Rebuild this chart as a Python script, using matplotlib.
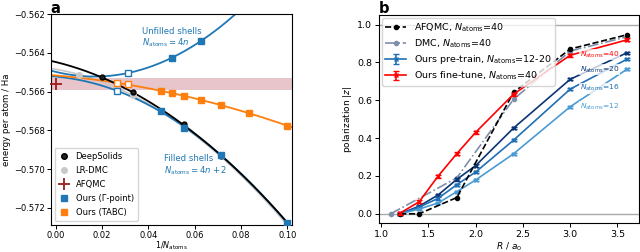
import matplotlib.pyplot as plt
import numpy as np

# ---- panel a data (energy per atom vs 1/N) ----
n_ds = np.array([50, 30, 22, 18, 14, 10])
e_ds = [-0.56526, -0.56603, -0.56700, -0.56768, -0.56930, -0.57277]

n_dmc = np.array([98, 30, 18])
e_dmc = [-0.56512, -0.56620, -0.56784]

e_afqmc = -0.56559
err_afqmc = 0.00031

n_gam_fill = np.array([38, 22, 18, 14, 10])
e_gam_fill = [-0.56595, -0.56701, -0.56788, -0.56926, -0.57280]
hollow_gam_fill = [True, False, False, False, False]

n_gam_unf = np.array([32, 20, 16])
e_gam_unf = [-0.56504, -0.56426, -0.56340]
hollow_gam_unf = [True, False, False]

n_tabc = np.array([38, 32, 22, 20, 18, 16, 14, 12, 10])
e_tabc = [-0.56555, -0.56562, -0.56598, -0.56608, -0.56624, -0.56641, -0.56669, -0.56710, -0.56777]
hollow_tabc = [True, True, False, False, False, False, False, False, False]

# ---- panel b data (polarization vs R) ----
r_afqmc = [1.2, 1.4, 1.8, 2.4, 3.0, 3.6]
p_afqmc = [0.0, 0.0, 0.086, 0.642, 0.871, 0.946]

r_dmc = [1.1, 1.8, 2.4, 3.0, 3.6]
p_dmc = [0.0, 0.19, 0.605, 0.86, 0.935]

r_ours = [1.2, 1.4, 1.6, 1.8, 2.0, 2.4, 3.0, 3.6]
p_n40 = [0.004, 0.063, 0.198, 0.318, 0.431, 0.632, 0.838, 0.919]
p_n20 = [0.0, 0.040, 0.099, 0.182, 0.255, 0.453, 0.711, 0.851]
p_n16 = [0.0, 0.035, 0.081, 0.154, 0.221, 0.389, 0.659, 0.817]
p_n12 = [0.0, 0.025, 0.057, 0.117, 0.179, 0.317, 0.566, 0.764]
err_n40 = [0.008, 0.008, 0.008, 0.008, 0.008, 0.008, 0.008, 0.008]
err_pre = [0.006, 0.006, 0.006, 0.006, 0.006, 0.006, 0.006, 0.006]

fig = plt.figure(figsize=(6.4, 2.52), dpi=100)

# ================= panel a =================
ax = fig.add_axes([0.079, 0.106, 0.377, 0.838])
xs = np.linspace(-0.003, 0.103, 200)

def fitcurve(n, e):
    c = np.polyfit(1 / n, e, 2)
    return np.polyval(c, xs)

ax.axhspan(e_afqmc - err_afqmc, e_afqmc + err_afqmc, color="#b04050", alpha=0.3, lw=0, zorder=0)

ax.plot(xs, fitcurve(n_dmc, e_dmc), color="#c8c8c8", lw=1.2, zorder=2)
ax.plot(xs, fitcurve(n_gam_fill, e_gam_fill), color="C0", lw=1.3, zorder=2)
ax.plot(xs, fitcurve(n_gam_unf, e_gam_unf), color="C0", lw=1.3, zorder=2)
ax.plot(xs, fitcurve(n_tabc, e_tabc), color="C1", lw=1.3, zorder=2)
ax.plot(xs, fitcurve(n_ds, e_ds), color="black", lw=1.3, zorder=3)

ax.plot(1 / n_dmc, e_dmc, "o", color="#c8c8c8", ms=4, zorder=3)
ax.plot(1 / n_ds, e_ds, "o", color="#222222", mec="black", ms=3.5, zorder=4)

for n, e, h in zip(n_gam_fill, e_gam_fill, hollow_gam_fill):
    ax.plot(1 / n, e, "s", ms=4, mec="C0", mfc="white" if h else "C0", mew=1, zorder=4)
for n, e, h in zip(n_gam_unf, e_gam_unf, hollow_gam_unf):
    ax.plot(1 / n, e, "s", ms=4, mec="C0", mfc="white" if h else "C0", mew=1, zorder=4)
for n, e, h in zip(n_tabc, e_tabc, hollow_tabc):
    ax.plot(1 / n, e, "s", ms=4, mec="C1", mfc="white" if h else "C1", mew=1, zorder=4)

ax.plot(0, e_afqmc, "+", color="#a01c1c", ms=8, mew=1.3, zorder=5, clip_on=False)

# legend handles
ax.plot([], [], "o", color="#222222", mec="black", ms=4, label="DeepSolids")
ax.plot([], [], "o", color="#c8c8c8", ms=4, label="LR-DMC")
ax.plot([], [], "+", color="#a01c1c", ms=8, mew=1.3, label="AFQMC")
ax.plot([], [], "s", color="C0", ms=4, label="Ours (Γ-point)")
ax.plot([], [], "s", color="C1", ms=4, label="Ours (TABC)")
ax.legend(loc="lower left", fontsize=6.0, handlelength=1.2, borderpad=0.5, labelspacing=0.6)

ax.text(0.0371, -0.56322, "Unfilled shells\n$N_\\mathrm{atoms}=4n$", color="C0", fontsize=6.1,
        ha="left", va="center", linespacing=1.1)
ax.text(0.0469, -0.56981, "Filled shells\n$N_\\mathrm{atoms}=4n+2$", color="C0", fontsize=6.1,
        ha="left", va="center", linespacing=1.1)

ax.set_xlim(-0.0022, 0.1019)
ax.set_ylim(-0.5729, -0.5620)
ax.set_xticks([0.0, 0.02, 0.04, 0.06, 0.08, 0.10])
ax.set_yticks([-0.562, -0.564, -0.566, -0.568, -0.570, -0.572])
ax.tick_params(labelsize=6, length=3, width=0.7, pad=1)
ax.set_xlabel("1/$N_\\mathrm{atoms}$", fontsize=5.8, labelpad=0)
ax.set_ylabel("energy per atom / Ha", fontsize=6.2, labelpad=2)
fig.text(0.079, 0.997, "a", fontsize=10.5, fontweight="bold", ha="left", va="top")

# ================= panel b =================
bx = fig.add_axes([0.592, 0.114, 0.406, 0.826])
bx.axhline(0.0, color="#aaaaaa", lw=1, zorder=0)
bx.axhline(1.0, color="#aaaaaa", lw=1, zorder=0)

bx.plot(r_afqmc, p_afqmc, "--o", color="black", ms=3, lw=1.2, zorder=4, label="AFQMC, $N_\\mathrm{atoms}$=40")
bx.plot(r_dmc, p_dmc, "-.o", color="#7d8fab", ms=3, lw=1.2, zorder=3, label="DMC, $N_\\mathrm{atoms}$=40")

bx.errorbar(r_ours, p_n20, yerr=err_pre, color="#0c3575", lw=1.2, capsize=2, ms=3, marker="x", zorder=3)
bx.errorbar(r_ours, p_n16, yerr=err_pre, color="#1f6fb4", lw=1.2, capsize=2, ms=3, marker="x", zorder=3,
            label="Ours pre-train, $N_\\mathrm{atoms}$=12-20")
bx.errorbar(r_ours, p_n12, yerr=err_pre, color="#4a9bd4", lw=1.2, capsize=2, ms=3, marker="x", zorder=3)
bx.errorbar(r_ours, p_n40, yerr=err_n40, color="red", lw=1.2, capsize=2, ms=3, marker="x", zorder=4,
            label="Ours fine-tune, $N_\\mathrm{atoms}$=40")

lab_y = [0.84, 0.762, 0.663, 0.566]
lab_c = ["red", "#0c3575", "#1f6fb4", "#4a9bd4"]
lab_n = [40, 20, 16, 12]
for y, c, n in zip(lab_y, lab_c, lab_n):
    bx.text(3.1, y, "$N_\\mathrm{atoms}$=%d" % n, color=c, fontsize=5.4, ha="left", va="center",
            bbox=dict(facecolor="white", edgecolor="none", alpha=0.75, pad=0.3), zorder=5)

bx.legend(loc="upper left", fontsize=6.8, handlelength=2.2, borderpad=0.4, labelspacing=0.35,
          borderaxespad=0.3)
bx.set_xlim(0.975, 3.725)
bx.set_ylim(-0.05, 1.05)
bx.set_xticks([1.0, 1.5, 2.0, 2.5, 3.0, 3.5])
bx.set_yticks([0.0, 0.2, 0.4, 0.6, 0.8, 1.0])
bx.tick_params(labelsize=6.8, length=3, width=0.7, pad=2)
bx.set_xlabel("$R$ / $a_0$", fontsize=6.5, labelpad=1)
bx.set_ylabel("polarization $|z|$", fontsize=6.5, labelpad=2)
fig.text(0.592, 0.997, "b", fontsize=10.5, fontweight="bold", ha="left", va="top")

plt.savefig("out.png", dpi=100)
plt.close()
